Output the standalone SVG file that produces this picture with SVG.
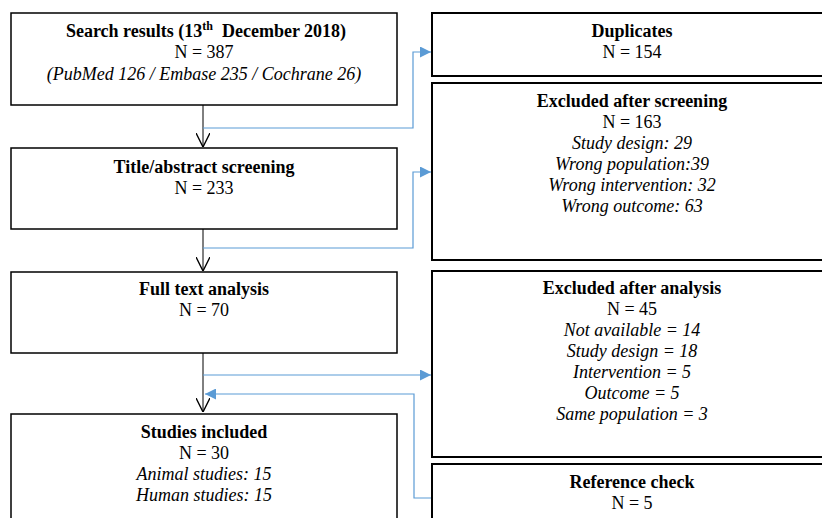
<svg xmlns="http://www.w3.org/2000/svg" width="822" height="518" viewBox="0 0 822 518">
<defs>
<style>
.box{fill:#fff;stroke:#000;stroke-width:1.5}
.rbox{fill:#fff;stroke:#000;stroke-width:2}
.t{font-family:"Liberation Serif","Times New Roman",serif;font-size:18px;text-anchor:middle;fill:#000}
.b{font-weight:bold}
.i{font-style:italic}
.blk{fill:none;stroke:#000;stroke-width:1}
.blu{fill:none;stroke:#5B9BD5;stroke-width:1.2}
</style>
<marker id="v" viewBox="0 0 10 10" refX="10" refY="5" markerWidth="14" markerHeight="14" markerUnits="userSpaceOnUse" orient="auto">
<path d="M0,0 L10,5 L0,10" fill="none" stroke="#000" stroke-width="1"/>
</marker>
<marker id="tri" viewBox="0 0 10 10" refX="10" refY="5" markerWidth="11" markerHeight="11" markerUnits="userSpaceOnUse" orient="auto">
<path d="M0,0 L10,5 L0,10 Z" fill="#5B9BD5"/>
</marker>
</defs>
<g id="connectors">
<path class="blk" d="M203,105 V147" marker-end="url(#v)"/>
<path class="blk" d="M203,229 V271" marker-end="url(#v)"/>
<path class="blk" d="M203,353 V412" marker-end="url(#v)"/>
<path class="blu" d="M203,128 H413 V52 H431" marker-end="url(#tri)"/>
<path class="blu" d="M203,248 H413 V172 H431" marker-end="url(#tri)"/>
<path class="blu" d="M203,375 H431" marker-end="url(#tri)"/>
<path class="blu" d="M432,498 H414 V394 H205" marker-end="url(#tri)"/>
</g>
<g id="search">
<rect class="box" x="11" y="13" width="386" height="92"/>
<text class="t b" x="206" y="37" xml:space="preserve">Search results (13<tspan font-size="12" dy="-7">th</tspan><tspan dy="7">  December 2018)</tspan></text>
<text class="t" x="204" y="58">N = 387</text>
<text class="t i" x="204" y="80">(PubMed 126 / Embase 235 / Cochrane 26)</text>
</g>
<g id="screening">
<rect class="box" x="11" y="148" width="386" height="81"/>
<text class="t b" x="204" y="173">Title/abstract screening</text>
<text class="t" x="204" y="194">N = 233</text>
</g>
<g id="fulltext">
<rect class="box" x="11" y="272" width="386" height="81"/>
<text class="t b" x="204" y="295">Full text analysis</text>
<text class="t" x="204" y="316">N = 70</text>
</g>
<g id="included">
<rect class="box" x="11" y="414" width="386" height="120"/>
<text class="t b" x="204" y="438">Studies included</text>
<text class="t" x="204" y="459">N = 30</text>
<text class="t i" x="204" y="480">Animal studies: 15</text>
<text class="t i" x="204" y="501">Human studies: 15</text>
</g>
<g id="duplicates">
<rect class="rbox" x="432" y="13" width="400" height="63"/>
<text class="t b" x="632" y="37">Duplicates</text>
<text class="t" x="632" y="58">N = 154</text>
</g>
<g id="excl-screening">
<rect class="rbox" x="432" y="83" width="400" height="177"/>
<text class="t b" x="632" y="107">Excluded after screening</text>
<text class="t" x="632" y="128">N = 163</text>
<text class="t i" x="632" y="149">Study design: 29</text>
<text class="t i" x="632" y="170">Wrong population:39</text>
<text class="t i" x="632" y="191">Wrong intervention: 32</text>
<text class="t i" x="632" y="212">Wrong outcome: 63</text>
</g>
<g id="excl-analysis">
<rect class="rbox" x="432" y="271" width="400" height="186"/>
<text class="t b" x="632" y="294">Excluded after analysis</text>
<text class="t" x="632" y="315">N = 45</text>
<text class="t i" x="632" y="336">Not available = 14</text>
<text class="t i" x="632" y="357">Study design = 18</text>
<text class="t i" x="632" y="378">Intervention = 5</text>
<text class="t i" x="632" y="399">Outcome = 5</text>
<text class="t i" x="632" y="420">Same population = 3</text>
</g>
<g id="refcheck">
<rect class="rbox" x="432" y="464" width="400" height="70"/>
<text class="t b" x="632" y="488">Reference check</text>
<text class="t" x="632" y="509">N = 5</text>
</g>
</svg>
